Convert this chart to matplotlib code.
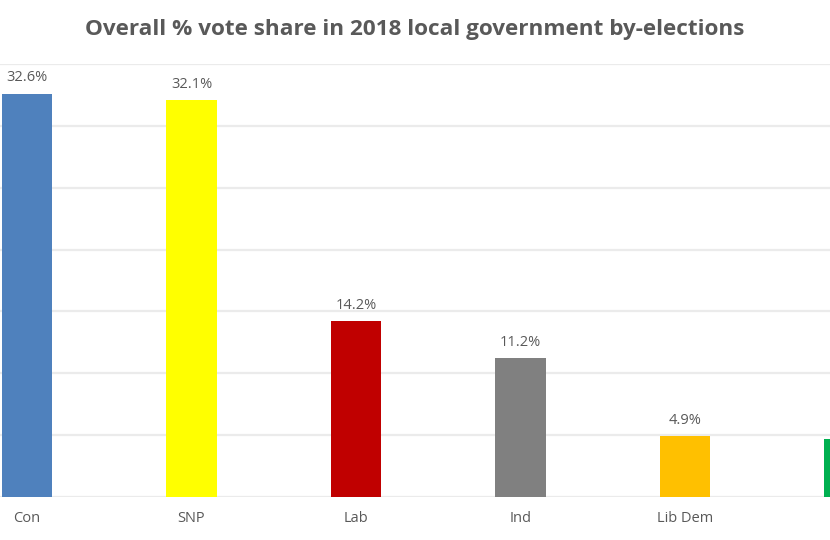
import numpy as np
import matplotlib.pyplot as plt

parties = ["Con", "SNP", "Lab", "Ind", "Lib Dem", "Greens"]
shares = [32.6, 32.1, 14.2, 11.2, 4.9, 4.7]
colours = ["#4f81bd", "#ffff00", "#c00000", "#808080", "#ffc000", "#00b050"]

plt.rcParams['font.family'] = ['Open Sans', 'DejaVu Sans']
text_col = "#595959"

fig = plt.figure(figsize=(8.3, 5.4), dpi=100)
# axes run past the figure edges, as the reference is a crop of a wider chart
ax = fig.add_axes([0, 43/540, 1, (497-64)/540])

x = np.arange(len(parties))
ax.bar(x, shares, width=0.31, color=colours, zorder=3)

for xi, v in zip(x, shares):
    ax.annotate(f"{v:.1f}%", xy=(xi, v), xytext=(0, 6), textcoords='offset points',
                ha='center', va='bottom', fontsize=10.5, color=text_col)

ax.set_xticks(x)
ax.set_xticklabels(parties)
step = 164.5
ax.set_xlim(-27/step, (830-27)/step)
ax.set_ylim(0, 35)
ax.set_yticks(np.arange(0, 36, 5))
ax.yaxis.grid(True, color="#ebebeb", linewidth=1.6, zorder=0)
ax.tick_params(axis='y', left=False, labelleft=False)
ax.tick_params(axis='x', length=0, pad=10, labelsize=10.5, labelcolor=text_col)
for s in ax.spines.values():
    s.set_visible(False)

fig.text(415/830, 1 - 30/540, "Overall % vote share in 2018 local government by-elections",
         ha='center', va='center', fontsize=16.2, fontweight='bold', color=text_col)

plt.savefig("out.png")
